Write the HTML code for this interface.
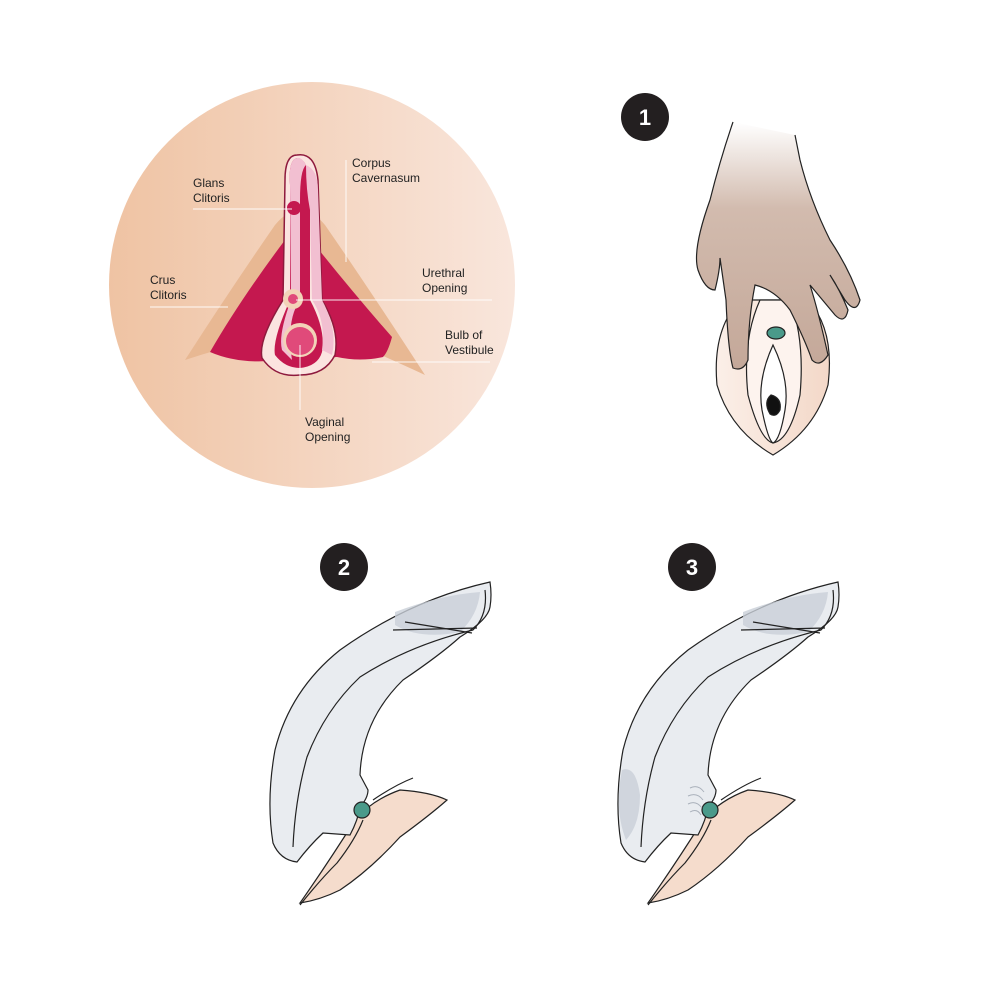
<!DOCTYPE html>
<html><head><meta charset="utf-8"><style>
html,body{margin:0;padding:0;background:#fff;}
svg{display:block}
text{font-family:"Liberation Sans",sans-serif;font-size:12px;fill:#222}
</style></head><body>
<svg width="1000" height="1000" viewBox="0 0 1000 1000" xmlns="http://www.w3.org/2000/svg">
<defs>
<linearGradient id="bg" x1="0" x2="1" y1="0" y2="0">
<stop offset="0" stop-color="#efc3a3"/><stop offset="1" stop-color="#f9e6dc"/></linearGradient>
<linearGradient id="hand" x1="0" x2="0" y1="0" y2="1">
<stop offset="0" stop-color="#fff"/><stop offset="0.35" stop-color="#d2bbae"/><stop offset="1" stop-color="#c4a899"/></linearGradient>
<linearGradient id="skin" x1="0" x2="1" y1="0" y2="0">
<stop offset="0" stop-color="#fbefe8"/><stop offset="1" stop-color="#f3d8c8"/></linearGradient>
</defs>
<!-- anatomy circle -->
<circle cx="312" cy="285" r="203" fill="url(#bg)"/>
<path d="M185 360 Q230 290 275 225 Q300 195 325 225 Q370 290 425 375 Q375 352 335 335 L280 335 Q230 345 185 360 Z" fill="#e8b893"/>
<path d="M210 352 Q240 300 285 240 L315 245 Q355 295 392 337 Q388 352 383 357 Q360 362 337 357 L280 360 Q240 365 210 352 Z" fill="#c4184f"/>
<path d="M297 155 Q285 155 285 180 L283 300 Q258 340 262 358 Q275 378 300 375 Q325 375 335 355 Q340 330 322 300 L318 180 Q315 152 297 155 Z" fill="#fbe4e0" stroke="#8e1a3d" stroke-width="1.5"/>
<path d="M297 158 Q288 160 290 185 L290 300 Q272 340 275 355 Q285 368 300 368 Q318 366 322 352 Q326 330 310 300 L310 185 Q308 158 297 158 Z" fill="#c4184f"/>
<path d="M297 158 Q288 160 290 185 L291 300 Q278 335 282 350 L292 360 Q286 320 300 300 L300 200 Q300 170 306 165 Q302 157 297 158 Z" fill="#f2bfd1"/>
<path d="M306 165 Q318 170 318 190 L322 300 Q338 330 332 355 L322 350 Q326 320 312 300 L310 210 Q306 190 306 165 Z" fill="#f2bfd1"/>
<circle cx="294" cy="208" r="7" fill="#c4184f"/>
<circle cx="293" cy="299" r="10" fill="#f2d3b8"/><circle cx="293" cy="299" r="5" fill="#e04a7a"/>
<circle cx="300" cy="340" r="17" fill="#f2d3b8"/><circle cx="300" cy="341" r="14" fill="#e04a7a"/>
<g stroke="#fff" stroke-width="1" fill="none" opacity="0.9">
<line x1="193" y1="209" x2="292" y2="209"/>
<line x1="346" y1="160" x2="346" y2="262"/>
<line x1="150" y1="307" x2="228" y2="307"/>
<line x1="296" y1="300" x2="492" y2="300"/>
<line x1="372" y1="362" x2="490" y2="362"/>
<line x1="300" y1="345" x2="300" y2="410"/>
</g>
<text x="193" y="187">Glans</text><text x="193" y="202">Clitoris</text>
<text x="352" y="167">Corpus</text><text x="352" y="182">Cavernasum</text>
<text x="150" y="284">Crus</text><text x="150" y="299">Clitoris</text>
<text x="422" y="277">Urethral</text><text x="422" y="292">Opening</text>
<text x="445" y="339">Bulb of</text><text x="445" y="354">Vestibule</text>
<text x="305" y="426">Vaginal</text><text x="305" y="441">Opening</text>

<!-- badges -->
<circle cx="645" cy="117" r="24" fill="#231f20"/><text x="645" y="125" text-anchor="middle" style="fill:#fff;font-size:22px;font-weight:bold">1</text>
<circle cx="344" cy="567" r="24" fill="#231f20"/><text x="344" y="575" text-anchor="middle" style="fill:#fff;font-size:22px;font-weight:bold">2</text>
<circle cx="692" cy="567" r="24" fill="#231f20"/><text x="692" y="575" text-anchor="middle" style="fill:#fff;font-size:22px;font-weight:bold">3</text>

<!-- figure 1 -->
<g stroke="#222" stroke-width="1.2">
<path d="M740 300 Q712 330 717 385 Q730 430 773 455 Q815 430 828 385 Q835 330 808 300 Z" fill="url(#skin)"/>
<path d="M760 300 Q742 340 748 395 Q760 440 773 443 Q790 440 800 395 Q805 340 790 300 Z" fill="#fdf3ee"/>
<path d="M773 345 Q757 380 762 410 Q768 440 773 443 Q780 440 785 410 Q790 380 773 345 Z" fill="#fff"/>
<path d="M771 395 Q763 402 770 414 Q776 418 780 410 Q782 398 771 395 Z" fill="#111"/>
<path d="M733 122 Q720 160 710 200 Q692 250 698 270 Q705 290 715 290 Q720 270 720 258 L726 300 Q728 350 733 368 Q743 372 748 360 Q748 320 755 285 Q775 290 790 310 Q805 340 812 360 Q820 368 828 355 Q818 310 810 285 L835 315 Q845 325 848 310 Q840 290 830 275 L845 300 Q856 315 860 300 Q850 270 830 240 Q810 200 800 160 L795 135" fill="url(#hand)"/>
<ellipse cx="776" cy="333" rx="9" ry="6" fill="#4a9a8a"/>
</g>

<!-- figure 2 -->
<g id="d" stroke="#222" stroke-width="1.2">
<path d="M300 903 Q330 860 355 820 Q372 800 400 790 Q430 792 447 800 Q430 815 400 837 Q370 870 340 890 Q320 900 300 903 Z" fill="#f5dccc"/>
<path d="M373 800 Q395 785 413 778" fill="none"/>
<path d="M490 582 Q410 600 340 650 Q290 690 275 750 Q266 800 273 843 Q280 860 297 862 Q310 845 323 833 L350 835 Q358 820 360 807 Q368 798 368 790 L360 775 Q362 720 403 680 Q440 655 460 637 Q488 620 490 607 Q492 595 490 582 Z" fill="#e9ecf0"/>
<path d="M395 612 Q440 595 480 592 Q478 615 460 632 Q420 640 395 625 Z" fill="#c9cfd8" stroke="none" opacity="0.8"/>
<path d="M293 847 Q295 800 307 757 Q325 710 360 677 Q410 645 473 630 Q488 615 485 590" fill="none"/>
<line x1="405" y1="622" x2="472" y2="633"/>
<line x1="393" y1="630" x2="477" y2="628"/>
<ellipse cx="362" cy="810" rx="8" ry="8" fill="#4a9a8a"/>
<path d="M300 905 Q320 880 337 863 Q355 840 363 820" fill="none"/>
</g>
<!-- figure 3 -->
<use href="#d" x="348"/>
<path d="M622 770 Q614 810 626 840 Q640 825 640 795 Q636 765 622 770 Z" fill="#c9cfd8" opacity="0.8"/>
<g stroke="#aab1bb" stroke-width="1" fill="none">
<path d="M690 788 Q698 784 704 792"/><path d="M688 796 Q697 792 703 800"/><path d="M688 804 Q696 800 702 808"/><path d="M690 812 Q697 808 701 815"/>
</g>
</svg>
</body></html>
